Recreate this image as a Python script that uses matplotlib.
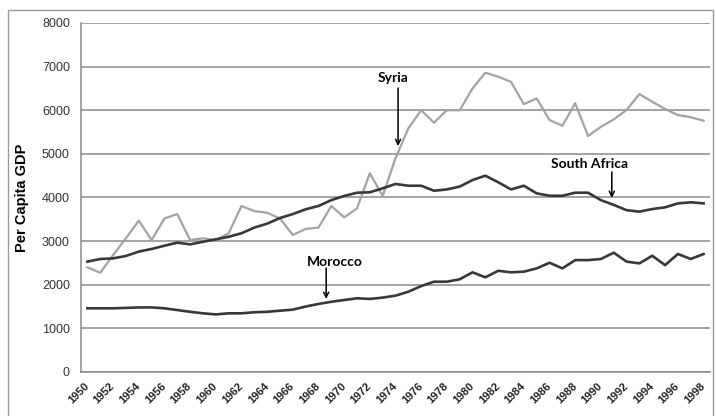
import matplotlib
matplotlib.use("Agg")
import matplotlib.pyplot as plt
from matplotlib.patches import Rectangle

years = list(range(1950, 1999))

syria = [2400, 2275, 2680, 3065, 3470, 3025, 3520, 3620, 3025, 3065,
         3025, 3180, 3805, 3690, 3650, 3520, 3140, 3280, 3310, 3805,
         3545, 3750, 4555, 4035, 4900, 5585, 6000, 5715, 6000, 6000,
         6500, 6860, 6770, 6650, 6140, 6270, 5775, 5645, 6160, 5410,
         5620, 5790, 6005, 6370, 6195, 6030, 5890, 5840, 5760]

south_africa = [2530, 2590, 2605, 2660, 2760, 2820, 2895, 2965, 2925, 2985,
                3040, 3100, 3180, 3310, 3400, 3530, 3620, 3730, 3805, 3940,
                4035, 4110, 4120, 4210, 4310, 4270, 4270, 4155, 4185, 4250,
                4400, 4500, 4350, 4185, 4270, 4095, 4040, 4040, 4110, 4110,
                3940, 3830, 3710, 3675, 3735, 3775, 3865, 3890, 3865]

morocco = [1460, 1460, 1460, 1470, 1480, 1480, 1460, 1420, 1380, 1345,
           1320, 1345, 1345, 1370, 1380, 1405, 1430, 1500, 1560, 1610,
           1650, 1690, 1675, 1705, 1750, 1840, 1970, 2070, 2070, 2125,
           2285, 2170, 2320, 2285, 2300, 2375, 2505, 2375, 2565, 2565,
           2590, 2735, 2530, 2490, 2665, 2450, 2705, 2590, 2705]

x_tick_years = list(range(1950, 1999, 2))
y_ticks = list(range(0, 8001, 1000))

fig = plt.figure(figsize=(7.16, 4.16), dpi=100)
ax = fig.add_axes([81/716, 1 - 372/416, (710-81)/716, (372-23)/416])

fig.patches.append(Rectangle((8/716, -0.05), (713-8)/716, 1.05 - 10/416,
                             transform=fig.transFigure, fill=False,
                             edgecolor="#9a9a9a", linewidth=1.0))

ax.plot(years, syria, color="#a3a3a3", linewidth=1.6, zorder=3)
ax.plot(years, south_africa, color="#383838", linewidth=1.9, zorder=4)
ax.plot(years, morocco, color="#383838", linewidth=1.9, zorder=4)

ax.set_xlim(1949.5, 1998.5)
ax.set_ylim(0, 8000)
ax.set_yticks(y_ticks)
ax.set_xticks(x_tick_years)
ax.yaxis.grid(True, color="#8a8a8a", linewidth=1.1)
ax.set_axisbelow(True)
for s in ["top", "right"]:
    ax.spines[s].set_visible(False)
for s in ["left", "bottom"]:
    ax.spines[s].set_color("#8a8a8a")
    ax.spines[s].set_linewidth(1.1)

ax.tick_params(axis="both", length=0)
ax.tick_params(axis="y", pad=8, labelsize=9, labelcolor="#333333")
ax.tick_params(axis="x", pad=9, labelsize=8, labelcolor="#222222")
for lab in ax.get_yticklabels():
    lab.set_family("Liberation Sans")
ax.set_xticklabels([str(y) for y in x_tick_years], rotation=45, ha="right",
                   va="center", rotation_mode="anchor",
                   fontweight="bold", family="Liberation Sans")

ax.set_ylabel("Per Capita GDP", fontsize=10.5, fontweight="bold",
              family="Liberation Sans", labelpad=9)

arrow = dict(arrowstyle="->", color="black", lw=1.1, mutation_scale=9,
             shrinkA=0, shrinkB=0)
ax.text(1973.8, 6740, "Syria", ha="center", va="center", fontsize=10,
        fontweight="bold", family="Lato")
ax.annotate("", xy=(1974.2, 5180), xytext=(1974.2, 6510), arrowprops=arrow)
ax.text(1989.1, 4770, "South Africa", ha="center", va="center", fontsize=10,
        fontweight="bold", family="Lato")
ax.annotate("", xy=(1990.85, 3990), xytext=(1990.85, 4585), arrowprops=arrow)
ax.text(1969.3, 2520, "Morocco", ha="center", va="center", fontsize=10,
        fontweight="bold", family="Lato")
ax.annotate("", xy=(1968.6, 1675), xytext=(1968.6, 2385), arrowprops=arrow)

fig.savefig("out.png", dpi=100)
